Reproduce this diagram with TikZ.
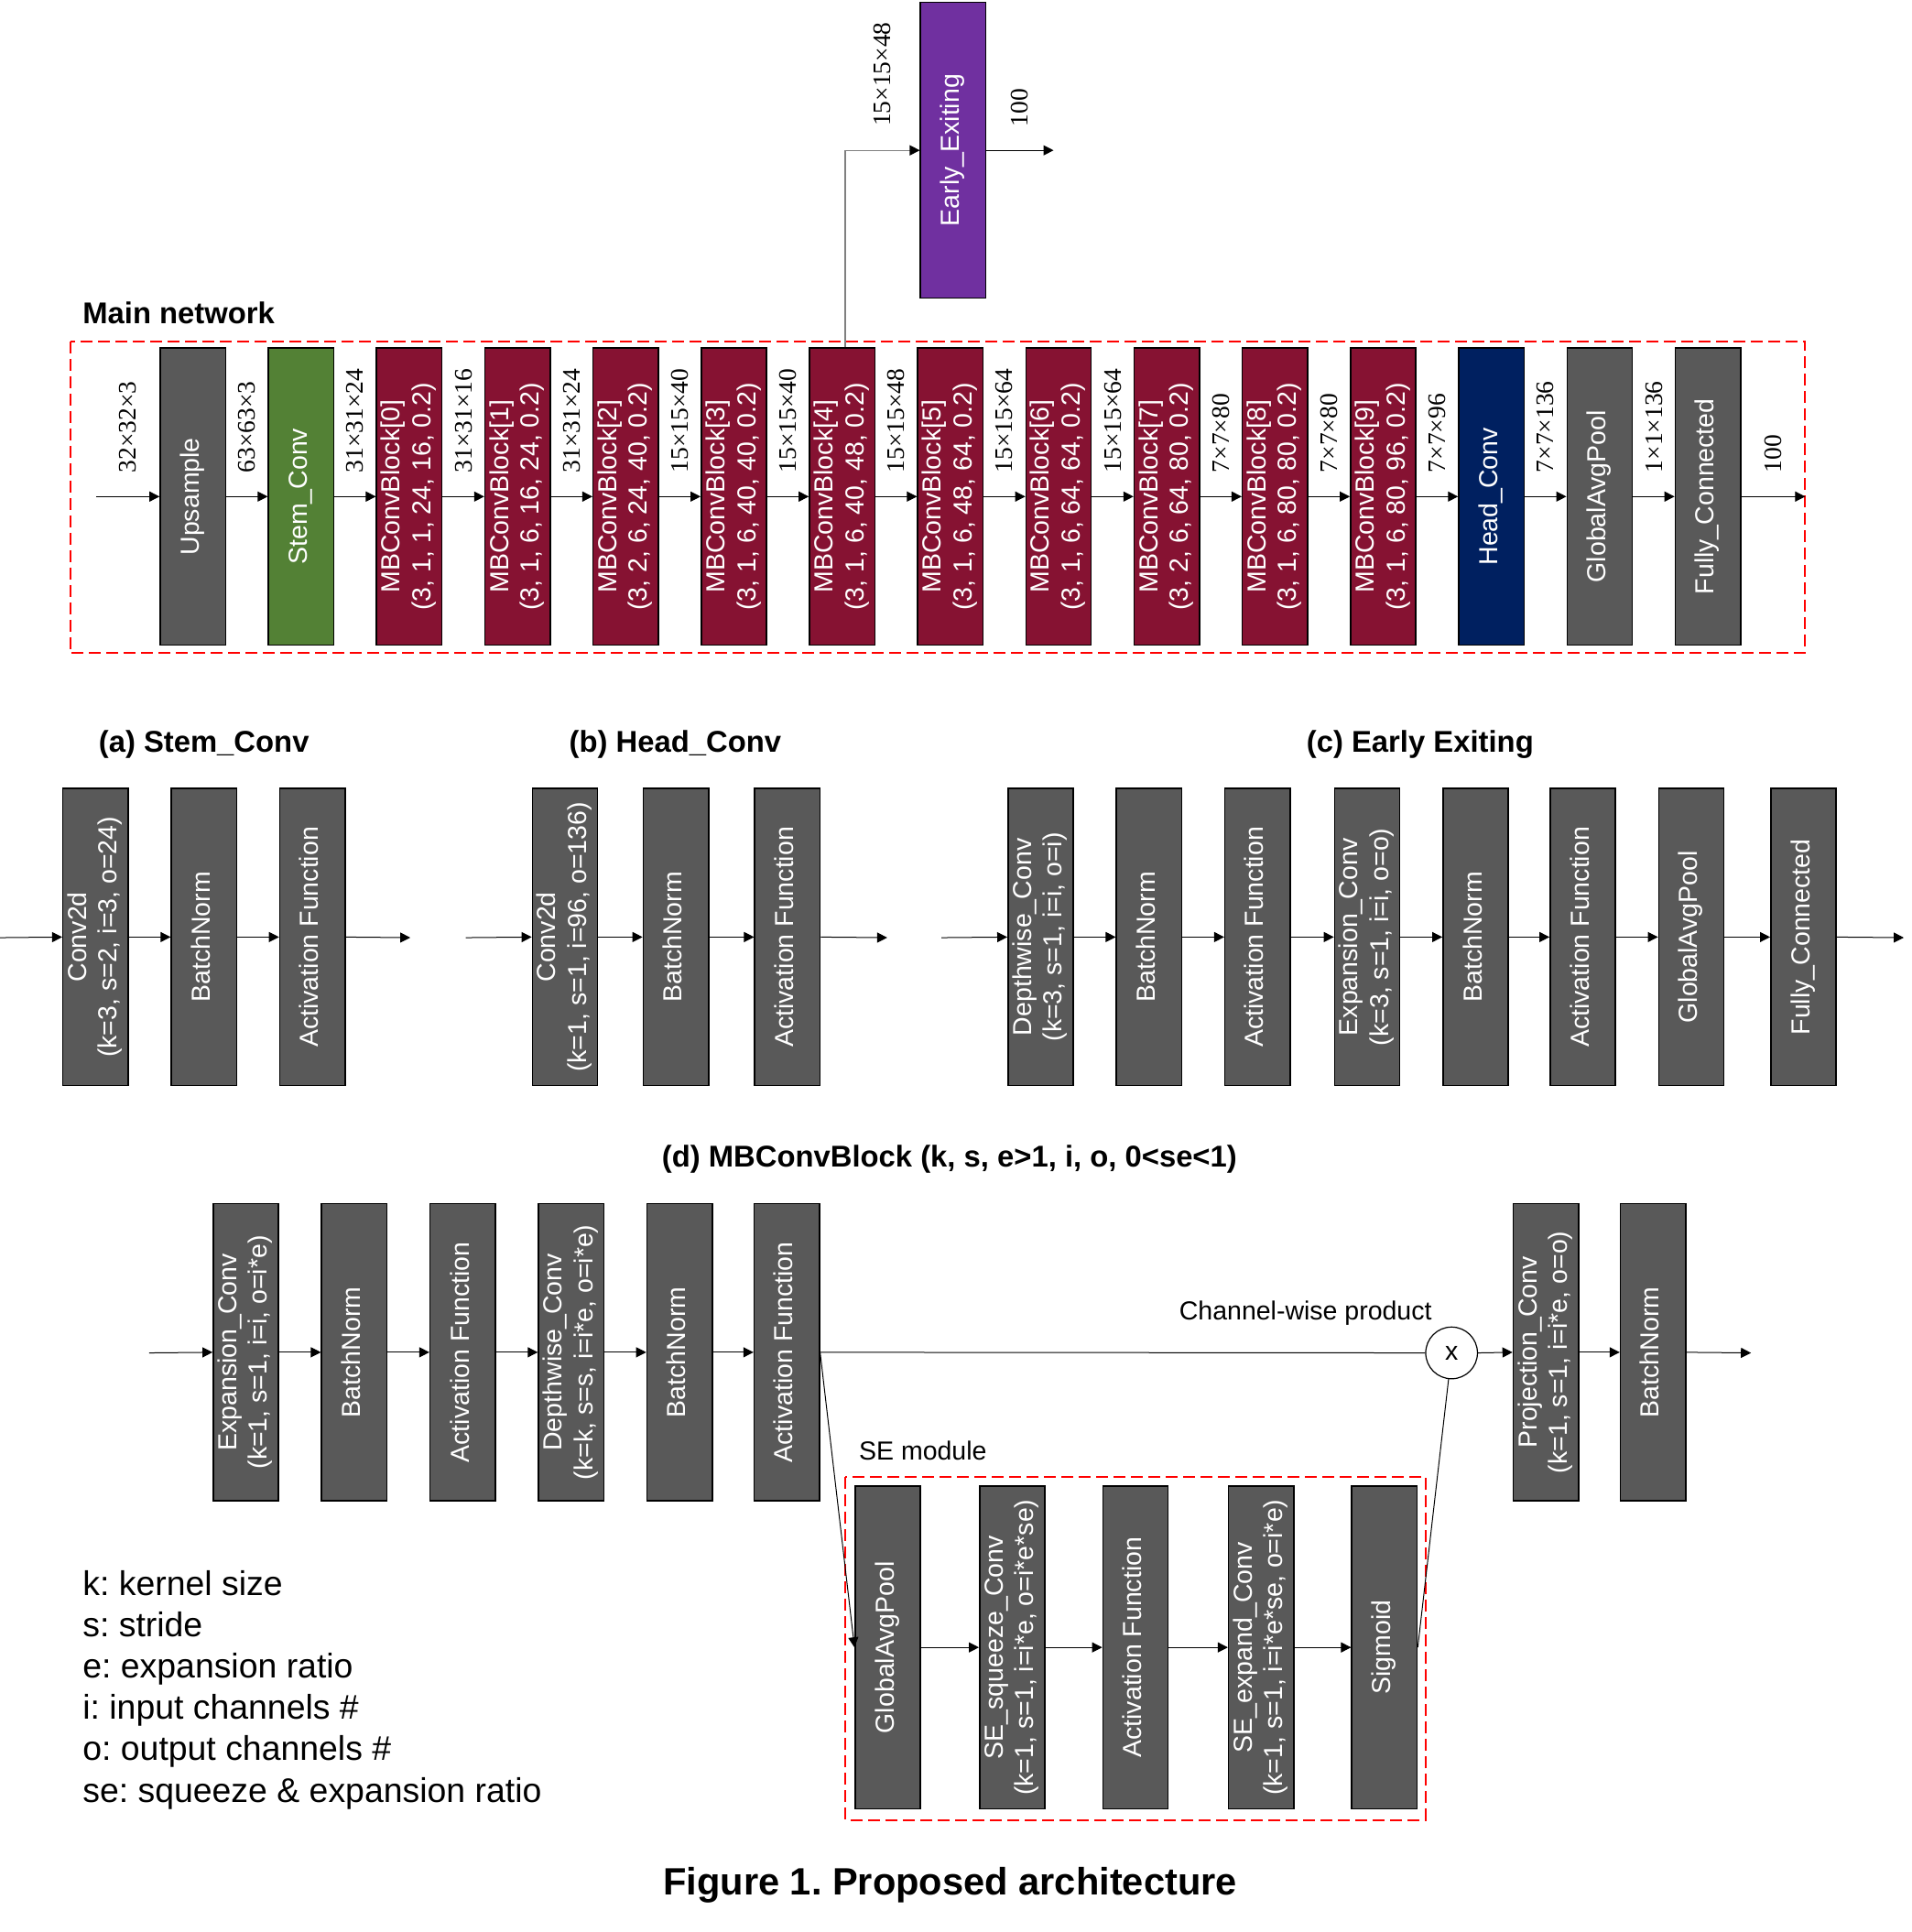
\documentclass[tikz,border=0pt]{standalone}
\usepackage{fontspec}
\usepackage{graphicx}
\setmainfont{Liberation Sans}
\newfontfamily\serifl{Liberation Serif}
\usetikzlibrary{arrows.meta,calc}
\definecolor{dgray}{HTML}{595959}
\definecolor{mgreen}{HTML}{538135}
\definecolor{maroon}{HTML}{861232}
\definecolor{navyb}{HTML}{002060}
\definecolor{purp}{HTML}{7030A0}
\frenchspacing
\newcommand\vt[1]{\rotatebox{90}{\begin{tabular}{@{}c@{}}#1\end{tabular}}}
\newcommand\boxfnt{\fontsize{28.5pt}{33.6pt}\selectfont}
\newcommand\dimfnt{\serifl\fontsize{27.5pt}{32pt}\selectfont}
\newcommand\ttlfnt{\bfseries\fontsize{32.8pt}{38pt}\selectfont}
\newcommand\capfnt{\bfseries\fontsize{41.6pt}{48pt}\selectfont}
\newcommand\lgdfnt{\fontsize{37.4pt}{45pt}\selectfont}
\begin{document}
\begin{tikzpicture}[x=1.3456pt,y=-1.3456pt,
  blk/.style={draw=black, line width=1.5pt, fill=dgray, minimum width=71.3pt, minimum height=324.3pt, inner sep=0pt, text=white, font=\boxfnt},
  seblk/.style={blk, minimum height=352.5pt},
  arr/.style={line width=1pt, -{Triangle[length=11pt,width=11pt]}},
  garr/.style={line width=1.3pt, draw=gray, -{Triangle[length=11pt,width=11pt,color=black]}},
  plain/.style={line width=1pt},
  dl/.style={font=\dimfnt, rotate=90, anchor=west, inner xsep=25.6pt, inner ysep=0pt},
  reddash/.style={draw=red, line width=2pt, dash pattern=on 13pt off 6pt},
  ttl/.style={font=\ttlfnt, inner sep=0pt},
  txt/.style={font=\boxfnt, inner sep=0pt}]
\useasboundingbox (0,0) rectangle (1551,1568);

% ---------------- Main network ----------------
\node[ttl, anchor=west] (mainlbl) at (67,254) {Main network};
\draw[reddash] (57,277) rectangle (1465,530);
\node[blk] (m0) at (156.5,403) {\vt{Upsample}};
\node[blk, fill=mgreen] (m1) at (244.3,403) {\vt{Stem\_Conv}};
\node[blk, fill=maroon] (m2) at (332.1,403) {\vt{MBConvBlock[0]\\(3, 1, 1, 24, 16, 0.2)}};
\node[blk, fill=maroon] (m3) at (420.0,403) {\vt{MBConvBlock[1]\\(3, 1, 6, 16, 24, 0.2)}};
\node[blk, fill=maroon] (m4) at (507.8,403) {\vt{MBConvBlock[2]\\(3, 2, 6, 24, 40, 0.2)}};
\node[blk, fill=maroon] (m5) at (595.6,403) {\vt{MBConvBlock[3]\\(3, 1, 6, 40, 40, 0.2)}};
\node[blk, fill=maroon] (m6) at (683.4,403) {\vt{MBConvBlock[4]\\(3, 1, 6, 40, 48, 0.2)}};
\node[blk, fill=maroon] (m7) at (771.2,403) {\vt{MBConvBlock[5]\\(3, 1, 6, 48, 64, 0.2)}};
\node[blk, fill=maroon] (m8) at (859.1,403) {\vt{MBConvBlock[6]\\(3, 1, 6, 64, 64, 0.2)}};
\node[blk, fill=maroon] (m9) at (946.9,403) {\vt{MBConvBlock[7]\\(3, 2, 6, 64, 80, 0.2)}};
\node[blk, fill=maroon] (m10) at (1034.7,403) {\vt{MBConvBlock[8]\\(3, 1, 6, 80, 80, 0.2)}};
\node[blk, fill=maroon] (m11) at (1122.5,403) {\vt{MBConvBlock[9]\\(3, 1, 6, 80, 96, 0.2)}};
\node[blk, fill=navyb] (m12) at (1210.3,403) {\vt{Head\_Conv}};
\node[blk] (m13) at (1298.2,403) {\vt{GlobalAvgPool}};
\node[blk] (m14) at (1386.0,403) {\vt{Fully\_Connected}};
\coordinate (min) at (78,403);
\coordinate (mout) at (1465,403);
\draw[arr] (min) -- node[dl]{32×32×3} (m0.west);
\draw[arr] (m0.east) -- node[dl]{63×63×3} (m1.west);
\draw[arr] (m1.east) -- node[dl]{31×31×24} (m2.west);
\draw[arr] (m2.east) -- node[dl]{31×31×16} (m3.west);
\draw[arr] (m3.east) -- node[dl]{31×31×24} (m4.west);
\draw[arr] (m4.east) -- node[dl]{15×15×40} (m5.west);
\draw[arr] (m5.east) -- node[dl]{15×15×40} (m6.west);
\draw[arr] (m6.east) -- node[dl]{15×15×48} (m7.west);
\draw[arr] (m7.east) -- node[dl]{15×15×64} (m8.west);
\draw[arr] (m8.east) -- node[dl]{15×15×64} (m9.west);
\draw[arr] (m9.east) -- node[dl]{7×7×80} (m10.west);
\draw[arr] (m10.east) -- node[dl]{7×7×80} (m11.west);
\draw[arr] (m11.east) -- node[dl]{7×7×96} (m12.west);
\draw[arr] (m12.east) -- node[dl]{7×7×136} (m13.west);
\draw[arr] (m13.east) -- node[dl]{1×1×136} (m14.west);
\draw[arr] (m14.east) -- node[dl]{100} (mout);

% ---------------- Early exit ----------------
\node[blk, fill=purp, minimum height=323pt] (ee) at (773.5,122) {\vt{Early\_Exiting}};
\coordinate (eecorner) at ([xshift=3.5pt]m6.north |- ee.west);
\draw[garr] ([xshift=3.5pt]m6.north) -- (eecorner) -- node[dl]{15×15×48} (ee.west);
\coordinate (eeout) at (855,122);
\draw[arr] (ee.east) -- node[dl]{100} (eeout);

% ---------------- (a) Stem_Conv ----------------
\node[ttl] (ta) at (165.5,604) {(a) Stem\_Conv};
\node[blk] (a1) at (77.5,760.5) {\vt{Conv2d\\(k=3, s=2, i=3, o=24)}};
\node[blk] (a2) at (165.5,760.5) {\vt{BatchNorm}};
\node[blk] (a3) at (253.5,760.5) {\vt{Activation Function}};
\coordinate (ain) at (0,761);
\coordinate (aout) at (333,761);
\draw[arr] (ain) -- (a1.west);
\draw[arr] (a1.east) -- (a2.west);
\draw[arr] (a2.east) -- (a3.west);
\draw[arr] (a3.east) -- (aout);

% ---------------- (b) Head_Conv ----------------
\node[ttl] (tb) at (548,604) {(b) Head\_Conv};
\node[blk] (b1) at (458.5,760.5) {\vt{Conv2d\\(k=1, s=1, i=96, o=136)}};
\node[blk] (b2) at (548.5,760.5) {\vt{BatchNorm}};
\node[blk] (b3) at (639,760.5) {\vt{Activation Function}};
\coordinate (bin) at (378,761);
\coordinate (bout) at (720,761);
\draw[arr] (bin) -- (b1.west);
\draw[arr] (b1.east) -- (b2.west);
\draw[arr] (b2.east) -- (b3.west);
\draw[arr] (b3.east) -- (bout);

% ---------------- (c) Early Exiting ----------------
\node[ttl] (tc) at (1152.5,604) {(c) Early Exiting};
\node[blk] (c1) at (844.5,760.5) {\vt{Depthwise\_Conv\\(k=3, s=1, i=i, o=i)}};
\node[blk] (c2) at (932.5,760.5) {\vt{BatchNorm}};
\node[blk] (c3) at (1020.5,760.5) {\vt{Activation Function}};
\node[blk] (c4) at (1109.5,760.5) {\vt{Expansion\_Conv\\(k=3, s=1, i=i, o=o)}};
\node[blk] (c5) at (1197.5,760.5) {\vt{BatchNorm}};
\node[blk] (c6) at (1284.5,760.5) {\vt{Activation Function}};
\node[blk] (c7) at (1372.5,760.5) {\vt{GlobalAvgPool}};
\node[blk] (c8) at (1463.5,760.5) {\vt{Fully\_Connected}};
\coordinate (cin) at (764,761);
\coordinate (cout) at (1545,761);
\draw[arr] (cin) -- (c1.west);
\draw[arr] (c1.east) -- (c2.west);
\draw[arr] (c2.east) -- (c3.west);
\draw[arr] (c3.east) -- (c4.west);
\draw[arr] (c4.east) -- (c5.west);
\draw[arr] (c5.east) -- (c6.west);
\draw[arr] (c6.east) -- (c7.west);
\draw[arr] (c7.east) -- (c8.west);
\draw[arr] (c8.east) -- (cout);

% ---------------- (d) MBConvBlock ----------------
\node[ttl] (td) at (770.5,941) {(d) MBConvBlock (k, s, e>1, i, o, 0<se<1)};
\node[blk] (d1) at (199.5,1097.5) {\vt{Expansion\_Conv\\(k=1, s=1, i=i, o=i*e)}};
\node[blk] (d2) at (287.5,1097.5) {\vt{BatchNorm}};
\node[blk] (d3) at (375.5,1097.5) {\vt{Activation Function}};
\node[blk] (d4) at (463.5,1097.5) {\vt{Depthwise\_Conv\\(k=k, s=s, i=i*e, o=i*e)}};
\node[blk] (d5) at (551.5,1097.5) {\vt{BatchNorm}};
\node[blk] (d6) at (638.5,1097.5) {\vt{Activation Function}};
\node[draw=black, line width=1.2pt, circle, minimum size=56.5pt, inner sep=0pt, font=\boxfnt] (circ) at (1178,1098) {x};
\node[blk] (d7) at (1254.5,1097.5) {\vt{Projection\_Conv\\(k=1, s=1, i=i*e, o=o)}};
\node[blk] (d8) at (1341.5,1097.5) {\vt{BatchNorm}};
\node[txt] (cwp) at (1059.5,1066) {Channel-wise product};
\coordinate (din) at (121,1098);
\coordinate (dout) at (1421,1098);
\draw[arr] (din) -- (d1.west);
\draw[arr] (d1.east) -- (d2.west);
\draw[arr] (d2.east) -- (d3.west);
\draw[arr] (d3.east) -- (d4.west);
\draw[arr] (d4.east) -- (d5.west);
\draw[arr] (d5.east) -- (d6.west);
\draw[plain] (d6.east) -- (circ.west);
\draw[arr] (circ.east) -- (d7.west);
\draw[arr] (d7.east) -- (d8.west);
\draw[arr] (d8.east) -- (dout);

% SE module
\draw[reddash] (686,1199) rectangle (1157,1477);
\node[txt, anchor=west] (selbl) at (697,1177) {SE module};
\node[seblk] (s1) at (720.5,1337) {\vt{GlobalAvgPool}};
\node[seblk] (s2) at (821.5,1337) {\vt{SE\_squeeze\_Conv\\(k=1, s=1, i=i*e, o=i*e*se)}};
\node[seblk] (s3) at (921.5,1337) {\vt{Activation Function}};
\node[seblk] (s4) at (1023.5,1337) {\vt{SE\_expand\_Conv\\(k=1, s=1, i=i*e*se, o=i*e)}};
\node[seblk] (s5) at (1123.5,1337) {\vt{Sigmoid}};
\draw[arr] (d6.east) -- (s1.west);
\draw[arr] (s1.east) -- (s2.west);
\draw[arr] (s2.east) -- (s3.west);
\draw[arr] (s3.east) -- (s4.west);
\draw[arr] (s4.east) -- (s5.west);
\draw[plain] (s5.east) -- (circ);

% ---------------- Legend ----------------
\node[font=\lgdfnt, anchor=base west, inner sep=0pt] (l1) at (67,1295) {k: kernel size};
\node[font=\lgdfnt, anchor=base west, inner sep=0pt] (l2) at (67,1328.5) {s: stride};
\node[font=\lgdfnt, anchor=base west, inner sep=0pt] (l3) at (67,1362) {e: expansion ratio};
\node[font=\lgdfnt, anchor=base west, inner sep=0pt] (l4) at (67,1395.5) {i: input channels \#};
\node[font=\lgdfnt, anchor=base west, inner sep=0pt] (l5) at (67,1429) {o: output channels \#};
\node[font=\lgdfnt, anchor=base west, inner sep=0pt] (l6) at (67,1462.5) {se: squeeze \& expansion ratio};

% ---------------- Caption ----------------
\node[font=\capfnt, inner sep=0pt] (cap) at (771,1530) {Figure 1. Proposed architecture};
\end{tikzpicture}
\end{document}
